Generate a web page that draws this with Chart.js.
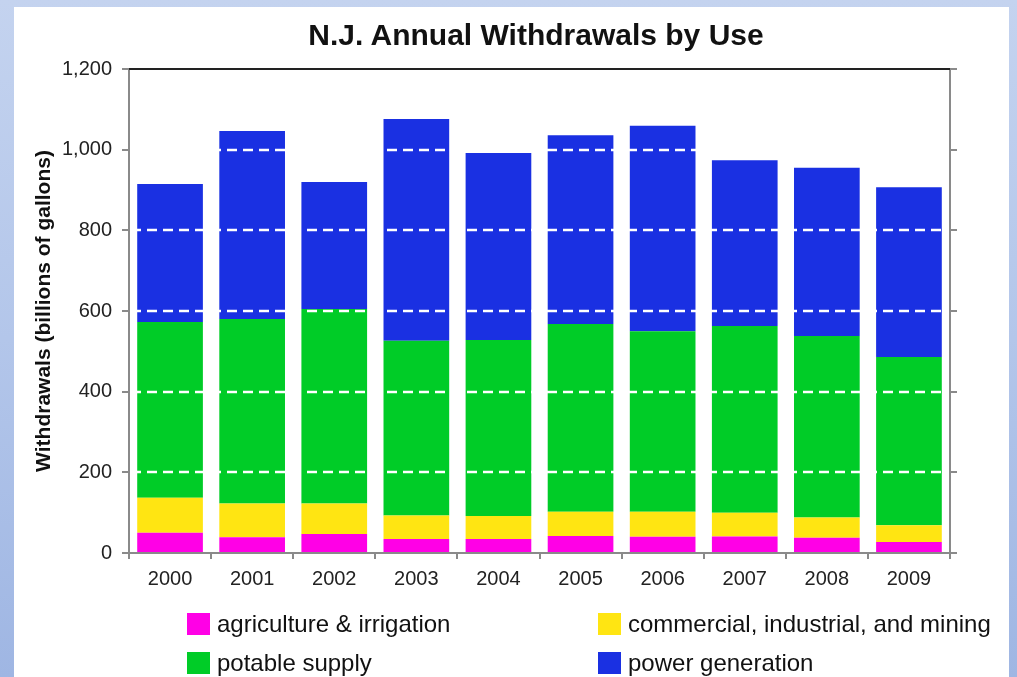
<!DOCTYPE html>
<html>
<head>
<meta charset="utf-8">
<script src="https://cdn.jsdelivr.net/npm/chart.js@4"></script>
<style>
  html, body { margin: 0; padding: 0; }
  body {
    width: 1017px; height: 677px; overflow: hidden; position: relative;
    background: linear-gradient(to bottom, #c4d3ef 0%, #b3c6ea 50%, #9fb6e3 100%);
    font-family: 'Liberation Sans', Arial, sans-serif;
  }
  #panel { position: absolute; left: 14px; top: 7px; width: 995px; height: 670px; background: #fff; }
  #chart { position: absolute; left: 0; top: 0; }
  #title {
    position: absolute; left: 0; width: 1072px; top: 17px; text-align: center;
    font-weight: bold; font-size: 30px; color: #111; line-height: 36px;
  }
  #legend { position: absolute; left: 0; top: 0; }
  .lg-item { position: absolute; height: 24px; display: flex; align-items: center; font-size: 24px; color: #111; white-space: nowrap; }
  .lg-box { width: 23px; height: 22px; margin-right: 7px; }
</style>
</head>
<body>
<div id="panel"></div>
<canvas id="chart" width="1017" height="677"></canvas>
<div id="title">N.J. Annual Withdrawals by Use</div>
<div id="legend"></div>
<script>
// N.J. Annual Withdrawals by Use - stacked bars, billions of gallons
const years = ['2000', '2001', '2002', '2003', '2004', '2005', '2006', '2007', '2008', '2009'];

const agriculture = [50, 39, 47, 35, 35, 42, 40, 41, 38, 27];
const commercial  = [87, 84, 76, 58, 57, 60, 62, 59, 50, 42];
const potable     = [436, 457, 482, 433, 436, 466, 448, 463, 450, 417];
const power       = [342, 466, 315, 550, 464, 468, 509, 411, 417, 421];

const seriesNames  = ['agriculture & irrigation', 'commercial, industrial, and mining', 'potable supply', 'power generation'];
const seriesColors = ['#FF00E6', '#FFE512', '#00CC27', '#1A30E2'];

const yTicks = [0, 200, 400, 600, 800, 1000, 1200];
const yTitle = 'Withdrawals (billions of gallons)';

const FONT = "'Liberation Sans', Arial, sans-serif";
const AXIS_GRAY = '#8a8a8a';

// white dashed grid lines go over the bars, plus the dark top edge
const overGrid = {
    id: 'overGrid',
    afterDatasetsDraw(chart) {
        const { ctx, chartArea: a, scales: { y } } = chart;
        ctx.save();
        ctx.strokeStyle = '#ffffff';
        ctx.lineWidth = 2.5;
        ctx.setLineDash([10, 6]);
        yTicks.filter(v => v > 0 && v < yTicks[yTicks.length - 1]).forEach(v => {
            const py = Math.round(y.getPixelForValue(v));
            ctx.beginPath();
            ctx.moveTo(a.left + 2, py);
            ctx.lineTo(a.right - 1, py);
            ctx.stroke();
        });
        ctx.setLineDash([]);
        ctx.strokeStyle = '#222';
        ctx.lineWidth = 2;
        const top = Math.round(y.getPixelForValue(yTicks[yTicks.length - 1]));
        ctx.beginPath();
        ctx.moveTo(a.left, top);
        ctx.lineTo(a.right, top);
        ctx.stroke();
        ctx.restore();
    }
};

const seriesData = [agriculture, commercial, potable, power];
const datasets = seriesData.map((d, i) => ({
    label: seriesNames[i],
    data: d,
    backgroundColor: seriesColors[i],
    borderWidth: 0,
    categoryPercentage: 1.0,
    barPercentage: 0.8
}));

const setTicks = scale => { scale.ticks = yTicks.map(v => ({ value: v })); };

new Chart(document.getElementById('chart').getContext('2d'), {
    type: 'bar',
    data: { labels: years, datasets },
    options: {
        responsive: false,
        animation: false,
        devicePixelRatio: 1,
        layout: { padding: { top: 69, left: 0, right: 0, bottom: 0 } },
        plugins: {
            legend: { display: false },
            title: { display: false },
            tooltip: { enabled: false }
        },
        scales: {
            x: {
                stacked: true,
                grid: { display: true, drawOnChartArea: false, drawTicks: true, tickLength: 6, color: AXIS_GRAY, lineWidth: 2 },
                border: { color: AXIS_GRAY, width: 2 },
                ticks: { color: '#222', padding: 8, font: { family: FONT, size: 20 } },
                afterFit: s => { s.height = 124; }
            },
            y: {
                stacked: true,
                min: 0, max: 1200,
                afterBuildTicks: setTicks,
                grid: { display: true, drawOnChartArea: false, drawTicks: true, tickLength: 7, color: AXIS_GRAY, lineWidth: 2 },
                border: { color: AXIS_GRAY, width: 2 },
                ticks: { color: '#222', padding: 10, font: { family: FONT, size: 20 } },
                title: {
                    display: true, text: yTitle, color: '#111',
                    font: { family: FONT, size: 21, weight: 'bold' },
                    padding: { top: 32, bottom: 0 }
                },
                afterFit: s => { s.width = 129; }
            },
            y2: {
                position: 'right',
                min: 0, max: 1200,
                afterBuildTicks: setTicks,
                grid: { display: true, drawOnChartArea: false, drawTicks: true, tickLength: 7, color: AXIS_GRAY, lineWidth: 2 },
                border: { color: AXIS_GRAY, width: 2 },
                ticks: { display: false },
                afterFit: s => { s.width = 67; }
            }
        }
    },
    plugins: [overGrid]
});

// legend: two columns, two rows
const legendSpots = [[187, 612], [598, 612], [187, 651], [598, 651]];
const legendOrder = [0, 1, 2, 3];
const legendEl = document.getElementById('legend');
legendOrder.forEach((si, k) => {
    const item = document.createElement('div');
    item.className = 'lg-item';
    item.style.left = legendSpots[k][0] + 'px';
    item.style.top = legendSpots[k][1] + 'px';
    const box = document.createElement('span');
    box.className = 'lg-box';
    box.style.background = seriesColors[si];
    const txt = document.createElement('span');
    txt.textContent = seriesNames[si];
    item.appendChild(box);
    item.appendChild(txt);
    legendEl.appendChild(item);
});
</script>
</body>
</html>
